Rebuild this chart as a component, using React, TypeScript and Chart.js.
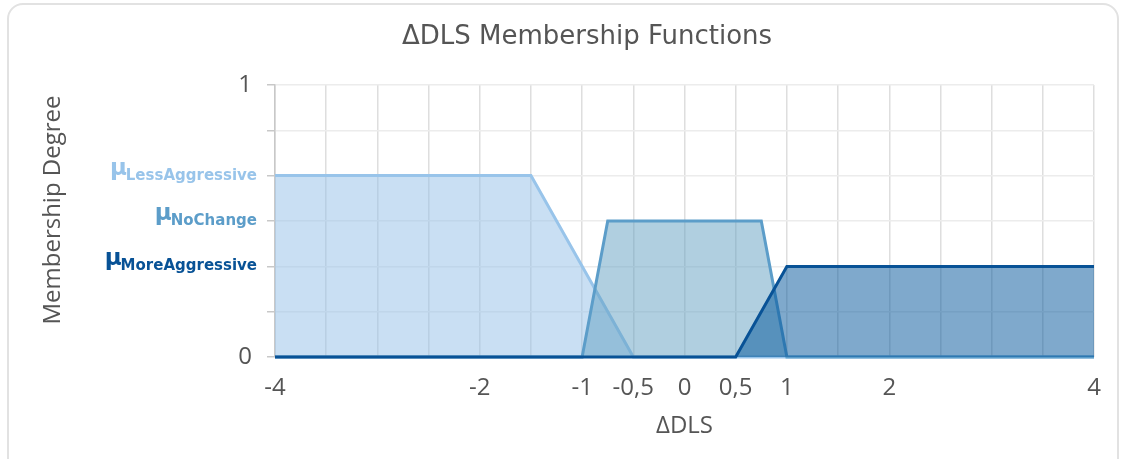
import React, { useEffect, useRef } from "react";
import { Chart, registerables } from "chart.js";

Chart.register(...registerables);

// ---- data ----
const lessX = [-4, -1.5, -0.5, 4];
const lessY = [0.667, 0.667, 0, 0];
const noChangeX = [-4, -1, -0.75, 0.75, 1, 4];
const noChangeY = [0, 0, 0.5, 0.5, 0, 0];
const moreX = [-4, 0.5, 1, 4];
const moreY = [0, 0, 0.333, 0.333];

const seriesSubs = ["LessAggressive", "NoChange", "MoreAggressive"];
const seriesLevels = [0.667, 0.5, 0.333];
const xTickLabels = [-4, -2, -1, -0.5, 0, 0.5, 1, 2, 4];

const TITLE = "ΔDLS Membership Functions";
const X_TITLE = "ΔDLS";
const Y_TITLE = "Membership Degree";

const LESS_LINE = "rgb(152,196,234)";
const LESS_FILL = "rgba(148,192,232,0.5)";
const NC_LINE = "rgb(92,157,201)";
const NC_FILL = "rgba(97,159,193,0.5)";
const MORE_LINE = "rgb(8,82,150)";
const MORE_FILL = "rgba(0,83,154,0.5)";
const labelColors = [LESS_LINE, NC_LINE, MORE_LINE];

const FONT = "'Open Sans', sans-serif";
const TEXT = "#555555";

const pts = (xs: number[], ys: number[]) => xs.map((x, i) => ({ x, y: ys[i] }));

const customTexts = {
  id: "customTexts",
  afterDraw(chart: any) {
    const ctx = chart.ctx;
    const ys = chart.scales.y;
    const right = 257;
    ctx.save();
    // title
    ctx.fillStyle = TEXT;
    ctx.font = "26px 'DejaVu Sans'";
    ctx.textAlign = "center";
    ctx.textBaseline = "middle";
    ctx.fillText(TITLE, 587, 37);
    // y-axis title
    ctx.save();
    ctx.translate(53, 210);
    ctx.rotate(-Math.PI / 2);
    ctx.font = "24px 'Open Sans'";
    ctx.fillText(Y_TITLE, 0, 0);
    ctx.restore();
    // mu labels
    seriesSubs.forEach((sub, i) => {
      const yp = ys.getPixelForValue(seriesLevels[i]);
      ctx.fillStyle = labelColors[i];
      ctx.font = "bold 15px 'DejaVu Sans'";
      const w = ctx.measureText(sub).width;
      ctx.textAlign = "left";
      ctx.textBaseline = "alphabetic";
      ctx.fillText(sub, right - w, yp + 4);
      ctx.font = "bold 23px 'DejaVu Sans'";
      ctx.textAlign = "right";
      ctx.fillText("μ", right - w + 1, yp - 1);
    });
    ctx.restore();
  },
};

export default function App() {
  const ref = useRef<HTMLCanvasElement | null>(null);
  useEffect(() => {
    if (!ref.current) return;
    const common = {
      fill: "origin",
      borderWidth: 3,
      pointRadius: 0,
      tension: 0,
      clip: 6,
    };
    const chart = new Chart(ref.current, {
      type: "line",
      data: {
        datasets: [
          {
            ...common,
            label: "MoreAggressive",
            data: pts(moreX, moreY),
            borderColor: MORE_LINE,
            backgroundColor: MORE_FILL,
          },
          {
            ...common,
            label: "NoChange",
            data: pts(noChangeX, noChangeY),
            borderColor: NC_LINE,
            backgroundColor: NC_FILL,
          },
          {
            ...common,
            label: "LessAggressive",
            data: pts(lessX, lessY),
            borderColor: LESS_LINE,
            backgroundColor: LESS_FILL,
          },
        ],
      },
      options: {
        responsive: false,
        animation: false,
        layout: { padding: { left: 38, right: 29, top: 0, bottom: 0 } },
        plugins: {
          legend: { display: false },
          tooltip: { enabled: false },
          title: {
            display: true,
            text: TITLE,
            color: "rgba(0,0,0,0)",
            font: { family: FONT, size: 27, weight: "normal", lineHeight: 1.2 },
            padding: { top: 21, bottom: 31.6 },
          },
        },
        scales: {
          x: {
            type: "linear",
            min: -4,
            max: 4,
            afterFit(scale: any) {
              scale.height = 102;
            },
            ticks: {
              stepSize: 0.5,
              autoSkip: false,
              maxRotation: 0,
              padding: 17,
              color: TEXT,
              font: { family: FONT, size: 24 },
              callback: (v: any) => {
                const n = Number(v);
                return xTickLabels.some((t) => Math.abs(t - n) < 1e-9)
                  ? String(n).replace(".", ",")
                  : "";
              },
            },
            grid: { color: "#dedede", lineWidth: 1.5, drawTicks: false },
            border: { display: false },
            title: {
              display: true,
              text: X_TITLE,
              color: TEXT,
              font: { family: FONT, size: 24 },
              padding: { top: 0, bottom: 18 },
            },
          },
          y: {
            min: 0,
            max: 1,
            afterFit(scale: any) {
              scale.width = 275 - 38;
            },
            ticks: {
              count: 7,
              padding: 15,
              color: TEXT,
              font: { family: FONT, size: 24 },
              callback: (v: any) => {
                const n = Number(v);
                if (Math.abs(n - 1) < 1e-6) return "1";
                if (Math.abs(n) < 1e-6) return "0";
                return "";
              },
            },
            grid: { color: "#ececec", lineWidth: 1.5, tickLength: 8, tickColor: "#c8c8c8" },
            border: { display: true, color: "#c8c8c8", width: 1.5 },
            title: {
              display: true,
              text: Y_TITLE,
              color: "rgba(0,0,0,0)",
              font: { family: FONT, size: 24 },
              padding: { top: 0, bottom: 0 },
            },
          },
        },
      },
      plugins: [customTexts],
    } as any);
    return () => chart.destroy();
  }, []);

  return (
    <div>
      <div
        style={{
          position: "fixed",
          left: 7,
          top: 3,
          width: 1112,
          height: 490,
          border: "2px solid #e2e2e2",
          borderRadius: 16,
          boxSizing: "border-box",
          background: "#fff",
        }}
      />
      <canvas
        ref={ref}
        width={1123}
        height={459}
        style={{ position: "fixed", left: 0, top: 0, width: 1123, height: 459 }}
      />
    </div>
  );
}
